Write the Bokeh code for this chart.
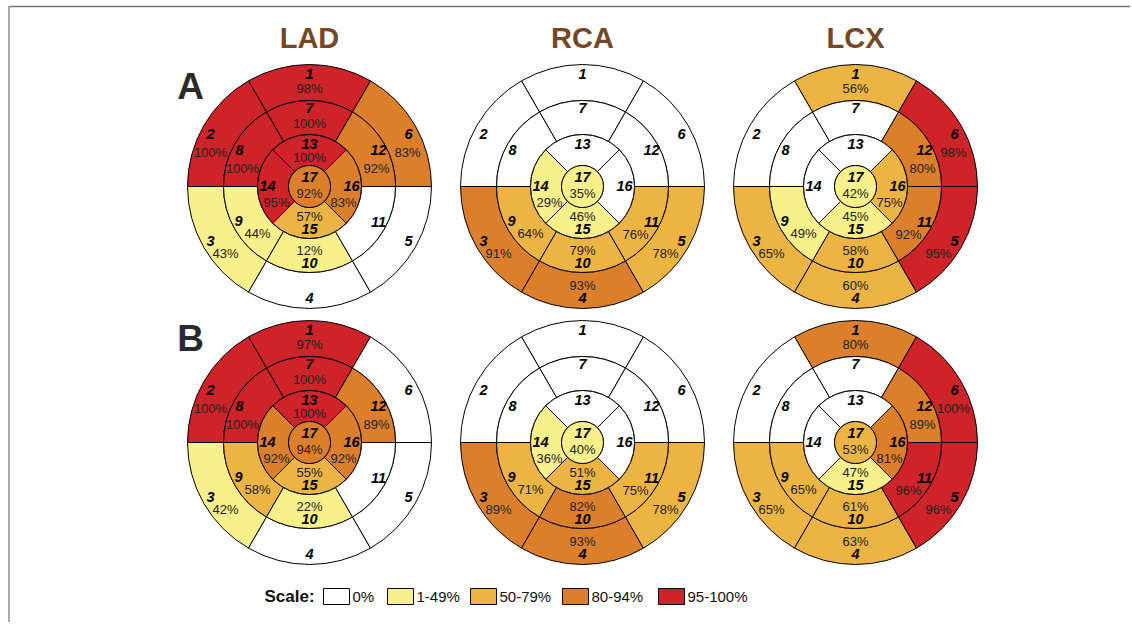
from bokeh.plotting import figure
from bokeh.models import ColumnDataSource, Range1d
from bokeh.embed import file_html
from bokeh.resources import INLINE
from bokeh.core.properties import value
import math

# ---------------- data ----------------
ARTERIES = ["LAD", "RCA", "LCX"]
PANELS = ["A", "B"]
SEGMENTS = list(range(1, 18))

# percentage per AHA segment 1..17
LAD_A = [98, 100, 43, 0, 0, 83, 100, 100, 44, 12, 0, 92, 100, 95, 57, 83, 92]
RCA_A = [0, 0, 91, 93, 78, 0, 0, 0, 64, 79, 76, 0, 0, 29, 46, 0, 35]
LCX_A = [56, 0, 65, 60, 95, 98, 0, 0, 49, 58, 92, 80, 0, 0, 45, 75, 42]
LAD_B = [97, 100, 42, 0, 0, 0, 100, 100, 58, 22, 0, 89, 100, 92, 55, 92, 94]
RCA_B = [0, 0, 89, 93, 78, 0, 0, 0, 71, 82, 75, 0, 0, 36, 51, 0, 40]
LCX_B = [80, 0, 65, 63, 96, 100, 0, 0, 65, 61, 96, 89, 0, 0, 47, 81, 53]

SCALE_LABELS = ["0%", "1-49%", "50-79%", "80-94%", "95-100%"]
SCALE_LOWER = [0, 1, 50, 80, 95]
SCALE_COLORS = ["#FFFFFF", "#F7F08B", "#ECB443", "#DB7F2C", "#CD2329"]

PANEL_DATA = {("A", "LAD"): LAD_A, ("A", "RCA"): RCA_A, ("A", "LCX"): LCX_A,
              ("B", "LAD"): LAD_B, ("B", "RCA"): RCA_B, ("B", "LCX"): LCX_B}

# ---------------- layout ----------------
W, H = 1130, 622
def X(px): return px
def Y(py): return H - py

COL_X = [309, 582, 855]
ROW_Y = [186, 442]
RADII = [122, 86, 52, 21]   # basal outer, mid outer, apical outer, apex

# label offsets (dx, dy up-positive) for number and percentage
NUM_OFF = {1: (0, 113), 2: (-99, 53), 3: (-99, -54), 4: (0, -111), 5: (99, -54), 6: (99, 53),
           7: (0, 79), 8: (-70, 37), 9: (-71, -34), 10: (0, -76), 11: (69, -35), 12: (69, 37),
           13: (0, 43), 14: (-42, 1), 15: (0, -42), 16: (42, 1), 17: (0, 10)}
PCT_OFF = {1: (0, 98), 2: (-99, 34), 3: (-84, -67), 4: (0, -99), 5: (83, -67), 6: (98, 34),
           7: (0, 63), 8: (-67, 18), 9: (-52, -47), 10: (0, -64), 11: (53, -48), 12: (67, 18),
           13: (0, 29), 14: (-33, -16), 15: (0, -30), 16: (34, -16), 17: (0, -7)}

def bin_color(v):
    idx = 0
    for i, lo in enumerate(SCALE_LOWER):
        if v >= lo:
            idx = i
    return SCALE_COLORS[idx]

def seg_geom(s):
    if s <= 6:
        return RADII[1], RADII[0], 60 + (s - 1) * 60
    if s <= 12:
        return RADII[2], RADII[1], 60 + (s - 7) * 60
    return RADII[3], RADII[2], 45 + (s - 13) * 90

FONT = "Liberation Sans"

p = figure(width=W, height=H, output_backend="svg", toolbar_location=None,
           x_range=Range1d(0, W), y_range=Range1d(0, H),
           x_axis_type=None, y_axis_type=None, min_border=0)
p.outline_line_color = None
p.background_fill_color = "white"
p.border_fill_color = "white"

# frame lines (top and left)
p.line([X(8), X(1131)], [Y(6), Y(6)], line_color="#777777", line_width=1.5)
p.line([X(8.5), X(8.5)], [Y(6), Y(H)], line_color="#aaaaaa", line_width=2)

wx, wy, wi, wo, ws, we, wc = [], [], [], [], [], [], []
cx, cy, cr, cc = [], [], [], []
nx, ny, nt = [], [], []
tx, ty, tt = [], [], []

for ri, panel in enumerate(PANELS):
    for ci, art in enumerate(ARTERIES):
        vals = PANEL_DATA[(panel, art)]
        ox, oy = X(COL_X[ci]), Y(ROW_Y[ri])
        for s, v in zip(SEGMENTS, vals):
            col = bin_color(v)
            if s < 17:
                inner, outer, st = seg_geom(s)
                span = 60 if s <= 12 else 90
                wx.append(ox); wy.append(oy); wi.append(inner); wo.append(outer)
                ws.append(math.radians(st)); we.append(math.radians(st + span)); wc.append(col)
            else:
                cx.append(ox); cy.append(oy); cr.append(RADII[3]); cc.append(col)
            dx, dy = NUM_OFF[s]
            nx.append(ox + dx); ny.append(oy + dy); nt.append(str(s))
            if v > 0:
                dx, dy = PCT_OFF[s]
                tx.append(ox + dx); ty.append(oy + dy); tt.append(f"{v}%")

p.annular_wedge(x="x", y="y", inner_radius="i", outer_radius="o", start_angle="s", end_angle="e",
                fill_color="c", line_color="black", line_width=1,
                source=ColumnDataSource(dict(x=wx, y=wy, i=wi, o=wo, s=ws, e=we, c=wc)))
p.circle(x="x", y="y", radius="r", fill_color="c", line_color="black", line_width=1,
         source=ColumnDataSource(dict(x=cx, y=cy, r=cr, c=cc)))

p.text(x=nx, y=ny, text=nt, text_font=value(FONT), text_font_style="bold italic",
       text_font_size="14.5px", text_align="center", text_baseline="middle", text_color="black")
p.text(x=tx, y=ty, text=tt, text_font=value(FONT), text_font_size="13px",
       text_align="center", text_baseline="middle", text_color="#222222")

# titles
p.text(x=[X(c) for c in COL_X], y=[Y(37)] * 3, text=ARTERIES, text_font=value(FONT),
       text_font_style="bold", text_font_size="29px", text_align="center",
       text_baseline="middle", text_color="#724826")
p.text(x=[X(190)] * 2, y=[Y(86), Y(338)], text=PANELS, text_font=value(FONT),
       text_font_style="bold", text_font_size="37px", text_align="center",
       text_baseline="middle", text_color="#2a2a2a")

# legend
BOX_LEFT = [323, 387, 470, 562, 658]
LEG_Y = 596
p.text(x=[X(289)], y=[Y(LEG_Y)], text=["Scale:"], text_font=value(FONT), text_font_style="bold",
       text_font_size="17px", text_align="center", text_baseline="middle", text_color="#111111")
p.rect(x=[X(b + 13) for b in BOX_LEFT], y=[Y(LEG_Y)] * 5, width=26, height=16,
       fill_color=SCALE_COLORS, line_color="black", line_width=1)
p.text(x=[X(b + 29) for b in BOX_LEFT], y=[Y(LEG_Y)] * 5, text=SCALE_LABELS, text_font=value(FONT),
       text_font_size="15px", text_align="left", text_baseline="middle", text_color="#111111")

open("out.html", "w").write(file_html(p, INLINE))
